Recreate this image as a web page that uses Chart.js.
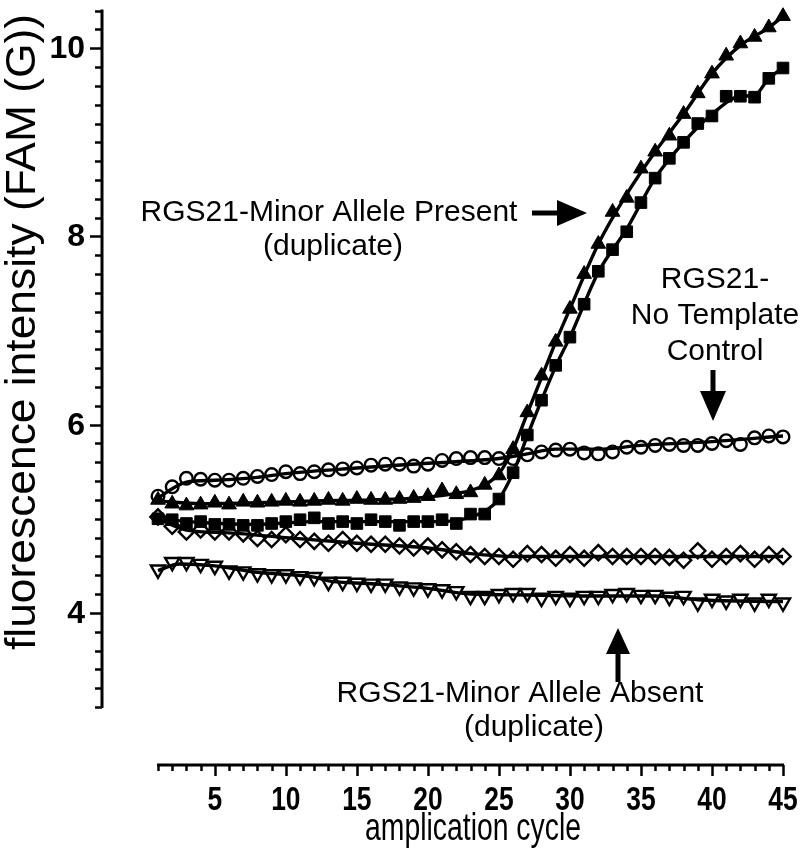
<!DOCTYPE html>
<html>
<head>
<meta charset="utf-8">
<script src="https://cdn.jsdelivr.net/npm/chart.js@4.4.1/dist/chart.umd.min.js"></script>
<style>
html,body{margin:0;padding:0;background:#fff;}
#wrap{width:800px;height:859px;}
</style>
</head>
<body>
<div id="wrap"><canvas id="qpcr" width="800" height="859"></canvas></div>
<script>
// ================= DATA ==================
const cycles = [1,2,3,4,5,6,7,8,9,10,11,12,13,14,15,16,17,18,19,20,21,22,23,24,25,26,27,28,29,30,31,32,33,34,35,36,37,38,39,40,41,42,43,44,45];

// RGS21-Minor Allele Present (duplicate): filled triangles + filled squares
const presentA = [5.20,5.16,5.14,5.15,5.17,5.15,5.18,5.17,5.18,5.19,5.18,5.19,5.20,5.19,5.21,5.20,5.20,5.21,5.22,5.24,5.30,5.26,5.28,5.36,5.46,5.74,6.13,6.52,6.88,7.23,7.60,7.92,8.26,8.41,8.72,8.90,9.07,9.30,9.52,9.73,9.92,10.05,10.12,10.22,10.34];
const presentB = [5.00,4.99,4.95,4.97,4.94,4.94,4.93,4.93,4.95,4.97,4.99,5.01,4.95,4.97,4.95,4.99,4.97,4.93,4.97,4.97,4.99,4.95,5.05,5.05,5.21,5.49,5.89,6.26,6.63,6.93,7.28,7.63,7.86,8.05,8.36,8.62,8.83,9.00,9.20,9.28,9.49,9.49,9.48,9.68,9.79];
// RGS21- No Template Control: open circles
const ntc = [5.24,5.34,5.43,5.42,5.41,5.41,5.43,5.45,5.47,5.50,5.48,5.50,5.52,5.53,5.54,5.57,5.58,5.58,5.56,5.58,5.62,5.64,5.65,5.65,5.64,5.64,5.68,5.71,5.73,5.74,5.70,5.69,5.71,5.76,5.76,5.78,5.79,5.78,5.78,5.80,5.83,5.79,5.86,5.88,5.87];
// RGS21-Minor Allele Absent (duplicate): open diamonds + open inverted triangles
const absentA = [5.02,4.92,4.86,4.88,4.86,4.86,4.84,4.79,4.78,4.83,4.78,4.76,4.74,4.78,4.74,4.73,4.73,4.71,4.69,4.71,4.67,4.65,4.62,4.60,4.60,4.57,4.63,4.62,4.58,4.62,4.58,4.64,4.60,4.60,4.60,4.60,4.59,4.56,4.66,4.57,4.60,4.63,4.57,4.62,4.60];
const absentB = [4.46,4.54,4.54,4.52,4.50,4.45,4.44,4.42,4.41,4.41,4.39,4.38,4.33,4.33,4.32,4.31,4.31,4.28,4.27,4.26,4.25,4.23,4.18,4.18,4.20,4.21,4.21,4.16,4.18,4.16,4.18,4.18,4.20,4.21,4.19,4.19,4.17,4.18,4.11,4.15,4.13,4.15,4.11,4.15,4.11];

// smoothed curves drawn through each series (knots)
const presentACurveX = [1,4,8,12,16,20,22,23,24,25,26,27,28,29,30,32,34,36,38,40,42,44,45];
const presentACurveY = [5.19,5.16,5.17,5.19,5.20,5.23,5.27,5.30,5.36,5.48,5.74,6.12,6.50,6.88,7.23,7.92,8.45,8.90,9.30,9.73,10.03,10.22,10.34];
const presentBCurveX = [1,4,8,12,16,20,22,23,24,25,26,27,28,29,30,32,34,36,38,40,42,43,44,45];
const presentBCurveY = [5.00,4.96,4.94,4.97,4.97,4.97,4.98,5.02,5.08,5.21,5.49,5.88,6.26,6.62,6.93,7.62,8.08,8.62,9.00,9.30,9.49,9.50,9.68,9.79];
const ntcCurveX = [1,2,3,5,8,10,15,20,25,27,29,32,35,40,45];
const ntcCurveY = [5.22,5.32,5.39,5.41,5.44,5.48,5.54,5.59,5.64,5.69,5.74,5.74,5.78,5.82,5.88];
const absentACurveX = [1,3,6,10,15,20,23,26,30,35,40,45];
const absentACurveY = [5.00,4.88,4.85,4.80,4.74,4.69,4.63,4.60,4.60,4.60,4.60,4.60];
const absentBCurveX = [1,2.5,5,8,12,13,16,20,23,27,32,36,39,45];
const absentBCurveY = [4.45,4.52,4.50,4.43,4.38,4.34,4.31,4.26,4.20,4.19,4.18,4.18,4.14,4.12];

const xTickLabels = [5,10,15,20,25,30,35,40,45];
const yTickLabels = [4,6,8,10];
const xMin = 1, xMax = 45, yMin = 3, yMax = 10.4;

// ================= HELPERS ==================
function pts(xs, ys){
  return xs.map((x,i)=>({x:x, y:ys[i]}));
}

function markerSet(values, style, radius, filled, rotation){
  return {
    data: pts(cycles, values),
    showLine: false,
    pointStyle: style,
    pointRadius: radius,
    pointRotation: rotation || 0,
    pointBackgroundColor: filled ? "#000" : "rgba(0,0,0,0)",
    pointBorderColor: "#000",
    pointBorderWidth: filled ? 1 : 2.4,
    clip: false,
    order: 0
  };
}

function curveSet(xs, ys){
  return {
    data: pts(xs, ys),
    borderColor: "#000",
    borderWidth: 3.4,
    pointRadius: 0,
    cubicInterpolationMode: "monotone",
    fill: false,
    clip: false,
    order: 1
  };
}

// text squeezed horizontally; if fitW is given the text is scaled to that width
function squeezeText(ctx, txt, x, y, font, sx, align, fitW){
  ctx.save();
  ctx.translate(x, y);
  ctx.font = font;
  if(fitW) sx = fitW / ctx.measureText(txt).width;
  ctx.scale(sx, 1);
  ctx.textAlign = align;
  ctx.textBaseline = "middle";
  ctx.fillText(txt, 0, 0);
  ctx.restore();
}

function arrow(ctx, x1, y1, x2, y2, headLen, headHalf, shaftW){
  const a = Math.atan2(y2-y1, x2-x1);
  const len = Math.hypot(x2-x1, y2-y1);
  ctx.save();
  ctx.translate(x1, y1);
  ctx.rotate(a);
  ctx.fillRect(0, -shaftW/2, len-headLen+1, shaftW);
  ctx.beginPath();
  ctx.moveTo(len, 0);
  ctx.lineTo(len-headLen, -headHalf);
  ctx.lineTo(len-headLen, headHalf);
  ctx.closePath();
  ctx.fill();
  ctx.restore();
}

// ================= AXES + NOTES ==================
const prismAxes = {
  id: "prismAxes",
  afterDraw(chart){
    const ctx = chart.ctx;
    const xs = chart.scales.x, ys = chart.scales.y;
    const axisX = 102, axisY = 765;
    ctx.save();
    ctx.strokeStyle = "#000";
    ctx.fillStyle = "#000";
    ctx.lineCap = "butt";

    // y axis
    ctx.lineWidth = 3;
    ctx.beginPath();
    ctx.moveTo(axisX, ys.getPixelForValue(yMax)-1);
    ctx.lineTo(axisX, ys.getPixelForValue(yMin)+1);
    ctx.stroke();
    ctx.lineWidth = 2.5;
    for(let i=0;i<=37;i++){
      const v = yMin + i*0.2;
      const major = yTickLabels.some(t=>Math.abs(t-v)<0.01);
      const py = Math.round(ys.getPixelForValue(v))+0.5;
      ctx.beginPath();
      ctx.moveTo(axisX, py);
      ctx.lineTo(axisX-(major?12:7), py);
      ctx.stroke();
    }
    yTickLabels.forEach(t=>{
      squeezeText(ctx, String(t), 85, ys.getPixelForValue(t)+1, "bold 32px 'Liberation Sans'", 1, "right");
    });

    // x axis
    ctx.lineWidth = 3;
    ctx.beginPath();
    ctx.moveTo(xs.getPixelForValue(xMin)-1, axisY);
    ctx.lineTo(xs.getPixelForValue(xMax)+1, axisY);
    ctx.stroke();
    ctx.lineWidth = 2.5;
    for(let c=xMin;c<=xMax;c++){
      const major = c%5===0;
      const px = Math.round(xs.getPixelForValue(c))+0.5;
      ctx.beginPath();
      ctx.moveTo(px, axisY);
      ctx.lineTo(px, axisY+(major?11:6));
      ctx.stroke();
    }
    xTickLabels.forEach(t=>{
      squeezeText(ctx, String(t), xs.getPixelForValue(t), 801, "bold 33px 'Liberation Sans'", 0.8, "center");
    });

    // axis titles
    ctx.save();
    ctx.translate(23, 332);
    ctx.rotate(-Math.PI/2);
    squeezeText(ctx, "fluorescence intensity (FAM (G))", 0, 0, "42px 'Liberation Sans'", 1, "center", 636);
    ctx.restore();
    squeezeText(ctx, "amplication cycle", 473, 830, "38px 'Liberation Sans'", 1, "center", 216);

    // annotations
    const nf = "30px 'Liberation Sans'";
    squeezeText(ctx, "RGS21-Minor Allele Present", 329, 213, nf, 1, "center");
    squeezeText(ctx, "(duplicate)", 333, 247, nf, 1, "center");
    arrow(ctx, 532, 213, 587, 213, 30, 13, 5);

    squeezeText(ctx, "RGS21-", 715, 280, nf, 1, "center");
    squeezeText(ctx, "No Template", 715, 316, nf, 1, "center");
    squeezeText(ctx, "Control", 715, 352, nf, 1, "center");
    arrow(ctx, 713, 370, 713, 421, 30, 13, 5);

    squeezeText(ctx, "RGS21-Minor Allele Absent", 520, 694, nf, 1, "center");
    squeezeText(ctx, "(duplicate)", 534, 728, nf, 1, "center");
    arrow(ctx, 618, 682, 618, 628, 26, 12, 5);

    ctx.restore();
  }
};

// ================= CHART ==================
new Chart(document.getElementById("qpcr"), {
  type: "line",
  data: {
    datasets: [
      curveSet(presentACurveX, presentACurveY),
      curveSet(presentBCurveX, presentBCurveY),
      curveSet(ntcCurveX, ntcCurveY),
      curveSet(absentACurveX, absentACurveY),
      curveSet(absentBCurveX, absentBCurveY),
      markerSet(presentA, "triangle", 8.5, true),
      markerSet(presentB, "rect", 8.2, true),
      markerSet(ntc, "circle", 6.3, false),
      markerSet(absentA, "rectRot", 7.6, false),
      markerSet(absentB, "triangle", 8.2, false, 180)
    ]
  },
  options: {
    responsive: false,
    animation: false,
    layout: { padding: { left: 158, right: 17, top: 4, bottom: 152 } },
    scales: {
      x: { type: "linear", min: xMin, max: xMax, display: false },
      y: { type: "linear", min: yMin, max: yMax, display: false }
    },
    plugins: {
      legend: { display: false },
      tooltip: { enabled: false }
    }
  },
  plugins: [prismAxes]
});
</script>
</body>
</html>
